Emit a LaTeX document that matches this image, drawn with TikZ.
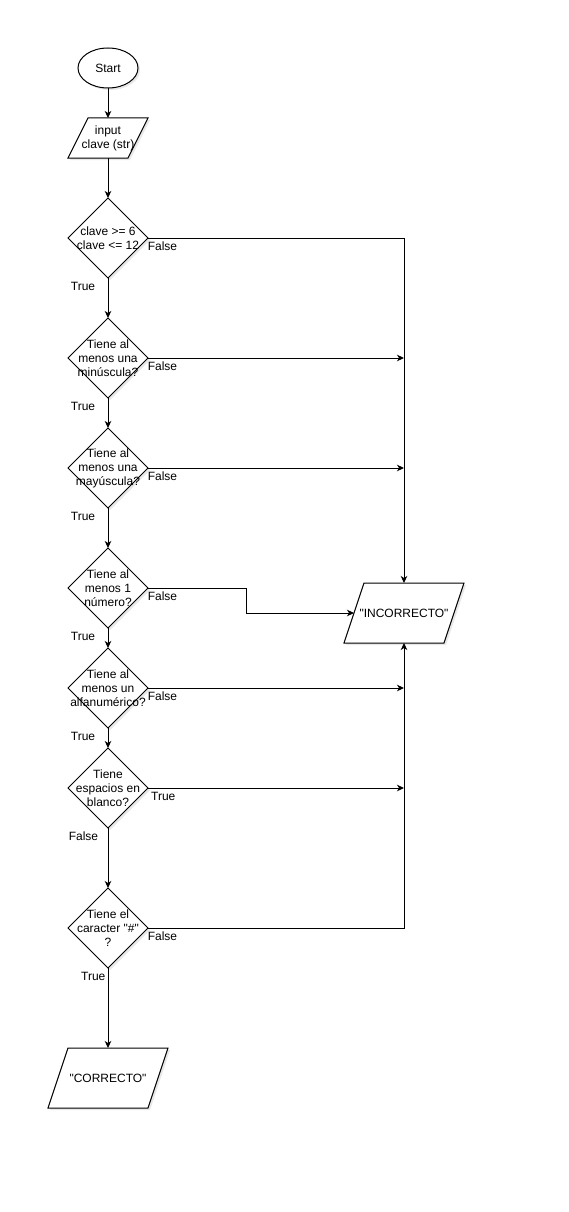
\documentclass[tikz,border=0pt]{standalone}
\usepackage{fontspec}
\setmainfont{Liberation Sans}
\usetikzlibrary{shapes.geometric,arrows.meta,shadows}
\pgfdeclarelayer{paper}
\pgfdeclarelayer{bg}
\pgfsetlayers{paper,bg,main}

\begin{document}
\begin{tikzpicture}[x=1pt,y=-1pt,
  font=\fontsize{12}{14}\selectfont,
  every node/.style={inner sep=0pt, outer sep=0pt},
  softshadow/.style={drop shadow={opacity=0.18, shadow xshift=2pt, shadow yshift=-2pt}},
  boxline/.style={draw=black, line width=1pt, fill=white, softshadow},
  terminal/.style={ellipse, boxline, minimum width=60pt, minimum height=40pt},
  decision/.style={diamond, boxline, aspect=1, minimum width=80pt, minimum height=80pt},
  iobox/.style={rectangle, align=center, minimum width=#1, minimum height=40pt},
  iobox/.default=80pt,
  flow/.style={line width=1pt, -{Stealth[length=7pt,width=6.5pt,inset=2pt]}},
  qtext/.style={align=center}
]
% page
\begin{pgfonlayer}{paper}
  \fill[white] (0,0) rectangle (568,1212);
\end{pgfonlayer}
\useasboundingbox (0,0) rectangle (568,1212);

% main column
\node[terminal] (start) at (108,68) {Start};
\node[iobox] (inp) at (108,138) {input\\clave (str)};
\node[decision, label={[qtext]center:{clave >= 6\\clave <= 12}}] (d1) at (108,238) {};
\node[decision, label={[qtext]center:{Tiene al\\menos una\\minúscula?}}] (d2) at (108,358) {};
\node[decision, label={[qtext]center:{Tiene al\\menos una\\mayúscula?}}] (d3) at (108,468) {};
\node[decision, label={[qtext]center:{Tiene al\\menos 1\\número?}}] (d4) at (108,588) {};
\node[decision, label={[qtext]center:{Tiene al\\menos un\\alfanumérico?}}] (d5) at (108,688) {};
\node[decision, label={[qtext]center:{Tiene\\espacios en\\blanco?}}] (d6) at (108,788) {};
\node[decision, label={[qtext]center:{Tiene el\\caracter \textquotedbl\#\textquotedbl\\?}}] (d7) at (108,928) {};
\node[iobox=120pt, minimum height=60pt] (cor) at (108,1078) {\textquotedbl CORRECTO\textquotedbl};

% result on the right
\node[iobox=120pt, minimum height=60pt] (inc) at (404,613) {\textquotedbl INCORRECTO\textquotedbl};

% parallelogram outlines behind the text
\begin{pgfonlayer}{bg}
  \draw[boxline] ([xshift=20pt]inp.north west) -- (inp.north east)
     -- ([xshift=-20pt]inp.south east) -- (inp.south west) -- cycle;
  \draw[boxline] ([xshift=20pt]cor.north west) -- (cor.north east)
     -- ([xshift=-20pt]cor.south east) -- (cor.south west) -- cycle;
  \draw[boxline] ([xshift=20pt]inc.north west) -- (inc.north east)
     -- ([xshift=-20pt]inc.south east) -- (inc.south west) -- cycle;
\end{pgfonlayer}

% vertical flow
\draw[flow] (start.south) -- (inp.north);
\draw[flow] (inp.south) -- (d1.north);
\draw[flow] (d1.south) -- (d2.north);
\draw[flow] (d2.south) -- (d3.north);
\draw[flow] (d3.south) -- (d4.north);
\draw[flow] (d4.south) -- (d5.north);
\draw[flow] (d5.south) -- (d6.north);
\draw[flow] (d6.south) -- (d7.north);
\draw[flow] (d7.south) -- (cor.north);

% branches to INCORRECTO
\draw[flow] (d1.east) -| (inc.north);
\draw[flow] (d2.east) -- (d2.east -| inc.north);
\draw[flow] (d3.east) -- (d3.east -| inc.north);
\draw[flow] (d4.east) -- ++(98,0) |- ([xshift=10pt]inc.west);
\draw[flow] (d5.east) -- (d5.east -| inc.north);
\draw[flow] (d6.east) -- (d6.east -| inc.north);
\draw[flow] (d7.east) -| (inc.south);

% branch labels
\node at ([shift={(14.5,8.5)}]d1.east) {False};
\node at ([shift={(-25,8.5)}]d1.south) {True};
\node at ([shift={(14.5,8.5)}]d2.east) {False};
\node at ([shift={(-25,8.5)}]d2.south) {True};
\node at ([shift={(14.5,8.5)}]d3.east) {False};
\node at ([shift={(-25,8.5)}]d3.south) {True};
\node at ([shift={(14.5,8.5)}]d4.east) {False};
\node at ([shift={(-25,8.5)}]d4.south) {True};
\node at ([shift={(14.5,8.5)}]d5.east) {False};
\node at ([shift={(-25,8.5)}]d5.south) {True};
\node at ([shift={(15.3,8.7)}]d6.east) {True};
\node at ([shift={(-24.5,8.5)}]d6.south) {False};
\node at ([shift={(14.5,8.5)}]d7.east) {False};
\node at ([shift={(-14.7,8.7)}]d7.south) {True};
\end{tikzpicture}
\end{document}
